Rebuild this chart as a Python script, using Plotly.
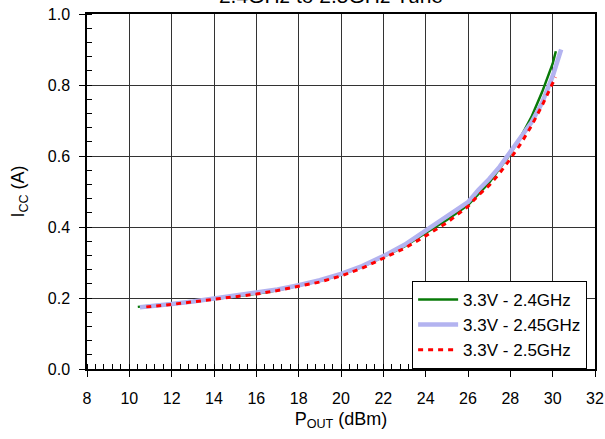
import plotly.graph_objects as go

# Data
x_24 = [10.4, 11, 12, 13, 14, 15, 16, 17, 18, 19, 20, 21, 22, 23, 24, 25, 26, 27, 28, 28.5, 29, 29.5, 30, 30.15]
y_24 = [0.175, 0.178, 0.183, 0.19, 0.197, 0.204, 0.212, 0.222, 0.234, 0.248, 0.266, 0.288, 0.316, 0.345, 0.383, 0.42, 0.462, 0.525, 0.606, 0.655, 0.71, 0.78, 0.86, 0.895]

x_245 = [10.5, 11, 12, 13, 14, 15, 16, 17, 18, 19, 20, 21, 22, 23, 24, 25, 25.5, 26, 26.5, 27, 27.5, 28, 28.5, 29, 29.5, 30, 30.4]
y_245 = [0.174, 0.176, 0.183, 0.19, 0.198, 0.205, 0.213, 0.224, 0.236, 0.25, 0.268, 0.29, 0.318, 0.35, 0.39, 0.43, 0.448, 0.47, 0.505, 0.535, 0.57, 0.61, 0.65, 0.695, 0.75, 0.825, 0.9]

x_25 = [10.8, 11, 12, 13, 14, 15, 16, 17, 18, 19, 20, 21, 22, 23, 24, 25, 26, 26.5, 27, 27.5, 28, 28.5, 29, 29.5, 30, 30.15]
y_25 = [0.175, 0.176, 0.182, 0.189, 0.196, 0.203, 0.211, 0.221, 0.232, 0.245, 0.262, 0.284, 0.312, 0.34, 0.375, 0.412, 0.458, 0.49, 0.517, 0.552, 0.592, 0.635, 0.685, 0.742, 0.805, 0.822]

series_names = ["3.3V - 2.4GHz", "3.3V - 2.45GHz", "3.3V - 2.5GHz"]
x_ticks = [8, 10, 12, 14, 16, 18, 20, 22, 24, 26, 28, 30, 32]
y_ticks = [0.0, 0.2, 0.4, 0.6, 0.8, 1.0]
y_tick_labels = ["0.0", "0.2", "0.4", "0.6", "0.8", "1.0"]

FONT = "Liberation Sans, Arial, sans-serif"

fig = go.Figure()
fig.add_trace(go.Scatter(x=x_24, y=y_24, mode="lines", name=series_names[0],
                         line=dict(color="#087a08", width=2.5)))
fig.add_trace(go.Scatter(x=x_245, y=y_245, mode="lines", name=series_names[1],
                         line=dict(color="#b3b3f0", width=4.5)))
fig.add_trace(go.Scatter(x=x_25, y=y_25, mode="lines", name=series_names[2],
                         line=dict(color="#ff0000", width=3, dash="5px,5px")))

fig.update_layout(
    width=605, height=439,
    margin=dict(l=87, r=10, t=14, b=70, autoexpand=False),
    paper_bgcolor="white", plot_bgcolor="white",
    font=dict(family=FONT, size=16, color="black"),
    title=dict(text="2.4GHz to 2.5GHz Tune", x=0.547, xanchor="center",
               y=0.993, yref="container", yanchor="bottom",
               font=dict(size=21, color="black")),
    showlegend=True,
    legend=dict(x=0.64, y=0.248, xanchor="left", yanchor="top",
                bgcolor="white", bordercolor="black", borderwidth=1,
                font=dict(size=17), tracegroupgap=0, itemwidth=40),
)

fig.update_xaxes(
    range=[8, 32], tickvals=x_ticks, ticktext=[str(v) for v in x_ticks],
    showgrid=True, gridcolor="#333333", gridwidth=1,
    showline=True, linecolor="black", linewidth=1.5, mirror=True,
    ticks="outside", ticklen=6, tickcolor="black", ticklabelstandoff=8,
    minor=dict(dtick=0.4, tick0=8, ticks="inside", ticklen=5, tickcolor="black", showgrid=False),
    zeroline=False, automargin=False,
    title=dict(text="P<sub>OUT</sub> (dBm)", standoff=6, font=dict(size=18)),
)
fig.update_yaxes(
    range=[0, 1], tickvals=y_ticks, ticktext=y_tick_labels,
    showgrid=True, gridcolor="#333333", gridwidth=1,
    showline=True, linecolor="black", linewidth=1.5, mirror=True,
    ticks="outside", ticklen=6, tickcolor="black", ticklabelstandoff=6,
    minor=dict(dtick=0.04, tick0=0, ticks="inside", ticklen=5, tickcolor="black", showgrid=False),
    zeroline=False, automargin=False,
    title=dict(text="I<sub>CC</sub> (A)", standoff=18, font=dict(size=18)),
)

fig.write_html("out.html", config={"displayModeBar": False},
               post_script="document.body.style.margin='0';document.body.style.overflow='hidden';")
